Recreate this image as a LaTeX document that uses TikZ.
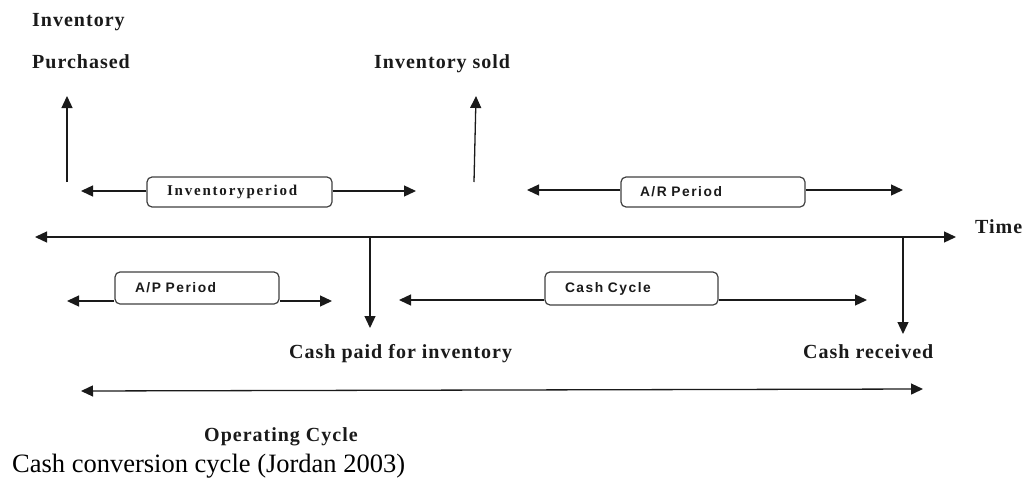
\documentclass[tikz,border=0pt]{standalone}
\usepackage{fontspec}
\setmainfont{Liberation Serif}
\newfontfamily\labfont[LetterSpace=5]{Liberation Serif}
\newfontfamily\boxserif[LetterSpace=12]{Liberation Serif}
\newfontfamily\boxsans[LetterSpace=11]{Liberation Sans}
\usetikzlibrary{arrows.meta}
\definecolor{ink}{HTML}{1A1A1A}
\definecolor{boxline}{HTML}{404040}
\tikzset{
  tip/.tip={Triangle[length=12pt,width=11pt]},
  conn/.style={draw=ink, line width=1.3pt, -tip},
  twoway/.style={draw=ink, line width=1.3pt, tip-tip},
  lab/.style={inner sep=0pt, anchor=base west, text=ink, font=\labfont\bfseries\fontsize{20}{24}\selectfont},
  periodbox/.style={draw=boxline, line width=1.2pt, rounded corners=5pt, fill=white,
    inner xsep=0pt, inner ysep=0pt, align=left, text=ink},
  serifbox/.style={periodbox, font=\boxserif\bfseries\fontsize{15}{17}\selectfont},
  sansbox/.style={periodbox, font=\boxsans\bfseries\fontsize{13.8}{16}\selectfont},
}
\begin{document}
\begin{tikzpicture}[x=1pt,y=-1pt]
\useasboundingbox (0,0) rectangle (1025,479);

% labels
\node[lab] (invtop) at (32,26) {Inventory};
\node[lab] (purch) at (32,68) {Purchased};
\node[lab] (sold) at (374,68) {Inventory sold};
\node[lab] (time) at (975,233) {Time};
\node[lab] (paid) at (289,358) {Cash paid for inventory};
\node[lab] (recv) at (803,358) {Cash received};
\node[lab] (opc) at (204,441) {Operating Cycle};
\node[inner sep=0pt, anchor=base west, text=black, font=\fontsize{26.5}{30}\selectfont] (cap) at (12,472) {Cash conversion cycle (Jordan 2003)};

% coordinates
\coordinate (pb) at (67,182);  \coordinate (pt) at (67,96);
\coordinate (sb) at (474,182); \coordinate (st) at (476,96);
\coordinate (tL) at (35,237);  \coordinate (tR) at (956,237);
\coordinate (d1) at (370,237); \coordinate (d1t) at (370,328);
\coordinate (d2) at (903,237); \coordinate (d2t) at (903,334);
\coordinate (ipL) at (81,191); \coordinate (ipR) at (416,191);
\coordinate (arL) at (527,190); \coordinate (arR) at (903,190);
\coordinate (apL) at (67,301); \coordinate (apR) at (332,301);
\coordinate (ccL) at (399,300); \coordinate (ccR) at (867,300);
\coordinate (ocL) at (81,391); \coordinate (ocR) at (923,389);

% boxes
\node[serifbox, text width=185pt, minimum height=30pt] (ipbox) at (239.5,192) {\hspace*{20pt}Inventoryperiod};
\node[sansbox, text width=184pt, minimum height=30pt] (arbox) at (713,192) {\hspace*{19pt}A/R Period};
\node[sansbox, text width=164pt, minimum height=32pt] (apbox) at (197,288) {\hspace*{20pt}A/P Period};
\node[sansbox, text width=173pt, minimum height=33pt] (ccbox) at (631.5,288.5) {\hspace*{20pt}Cash Cycle};

% vertical arrows
\draw[conn] (pb) -- (pt);
\draw[conn] (sb) -- (st);
\draw[conn] (d1) -- (d1t);
\draw[conn] (d2) -- (d2t);

% time axis
\draw[twoway] (tL) -- (tR);

% period arrows
\draw[conn] (ipL -| ipbox.west) -- (ipL);
\draw[conn] (ipR -| ipbox.east) -- (ipR);
\draw[conn] (arL -| arbox.west) -- (arL);
\draw[conn] (arR -| arbox.east) -- (arR);
\draw[conn] (apL -| apbox.west) -- (apL);
\draw[conn] (apR -| apbox.east) -- (apR);
\draw[conn] (ccL -| ccbox.west) -- (ccL);
\draw[conn] (ccR -| ccbox.east) -- (ccR);

% operating cycle
\draw[twoway] (ocL) -- (ocR);
\end{tikzpicture}
\end{document}
